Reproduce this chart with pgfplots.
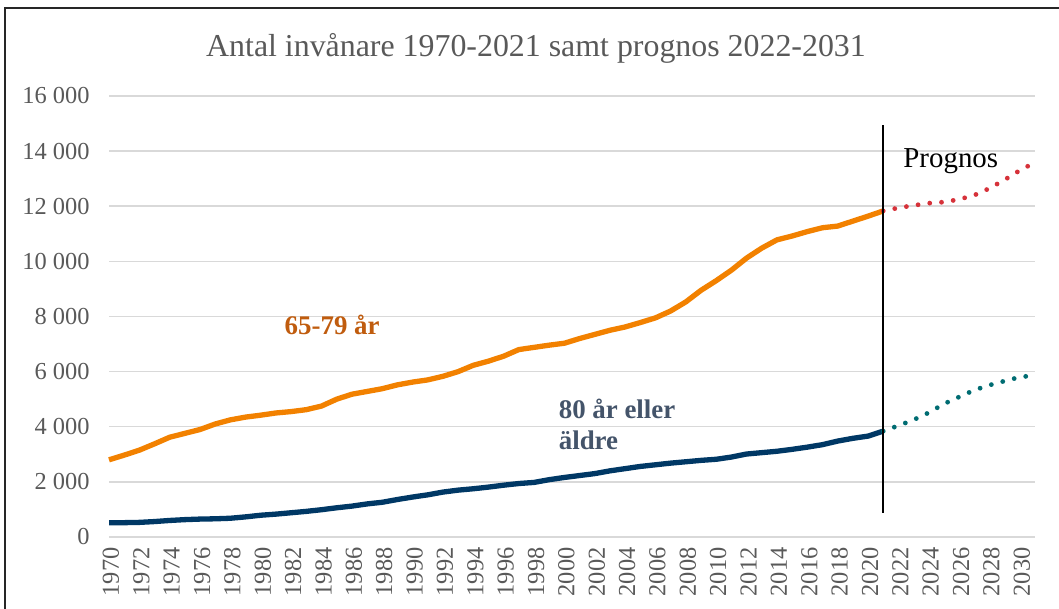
\documentclass[border=0pt]{standalone}
\usepackage{fontspec}
\setmainfont{Liberation Serif}
\usepackage{pgfplots}
\pgfplotsset{compat=1.18}
\definecolor{orangeL}{RGB}{242,129,0}
\definecolor{navyL}{RGB}{0,56,101}
\definecolor{redD}{RGB}{214,50,58}
\definecolor{tealD}{RGB}{0,108,114}
\definecolor{lblOr}{RGB}{192,92,14}
\definecolor{lblBl}{RGB}{68,84,106}
\definecolor{tickG}{RGB}{89,89,89}
\definecolor{gridG}{RGB}{217,217,217}
\begin{document}
\begin{tikzpicture}[x=1bp,y=1bp]
\useasboundingbox (0,0) rectangle (1059,609);
\draw[line width=2bp, black!85] (5,0) -- (5,601) -- (1059,601);
\node[anchor=base, text=tickG, font=\fontsize{32}{36}\selectfont] at (536,552) {Antal invånare 1970-2021 samt prognos 2022-2031};
\begin{axis}[
  at={(109bp,72bp)}, anchor=south west,
  width=926bp, height=441bp, scale only axis,
  xmin=1970, xmax=2031, ymin=0, ymax=16000,
  axis line style={draw=none},
  tick style={draw=none},
  ymajorgrids, grid style={gridG, line width=1.5bp},
  ytick={0,2000,...,16000},
  scaled y ticks=false,
  xtick={1970,1972,...,2030},
  xticklabel shift=7bp,
  /pgf/number format/assume math mode=true,
  yticklabel style={text=tickG, font=\fontsize{24.5}{27}\selectfont, xshift=-16bp, /pgf/number format/1000 sep={\ }},
  xticklabel style={text=tickG, font=\fontsize{24.5}{27}\selectfont, rotate=90, anchor=east, yshift=-2bp, /pgf/number format/1000 sep={}},
  clip=false,
]
\addplot[orangeL, line width=5.3bp, line join=round] coordinates {
(1970,2800)(1971,2970)(1972,3150)(1973,3380)(1974,3620)(1975,3760)(1976,3900)(1977,4100)(1978,4250)(1979,4350)
(1980,4420)(1981,4500)(1982,4550)(1983,4620)(1984,4750)(1985,5000)(1986,5180)(1987,5280)(1988,5380)(1989,5520)
(1990,5620)(1991,5700)(1992,5830)(1993,6000)(1994,6230)(1995,6380)(1996,6560)(1997,6800)(1998,6880)(1999,6960)
(2000,7030)(2001,7200)(2002,7350)(2003,7500)(2004,7620)(2005,7780)(2006,7950)(2007,8200)(2008,8530)(2009,8950)
(2010,9300)(2011,9680)(2012,10120)(2013,10480)(2014,10780)(2015,10920)(2016,11080)(2017,11220)(2018,11280)(2019,11460)
(2020,11640)(2021,11830)
};
\addplot[navyL, line width=5.3bp, line join=round] coordinates {
(1970,520)(1971,520)(1972,530)(1973,560)(1974,600)(1975,630)(1976,650)(1977,660)(1978,680)(1979,730)
(1980,790)(1981,830)(1982,880)(1983,930)(1984,990)(1985,1060)(1986,1120)(1987,1200)(1988,1260)(1989,1360)
(1990,1450)(1991,1530)(1992,1630)(1993,1700)(1994,1750)(1995,1810)(1996,1880)(1997,1940)(1998,1980)(1999,2080)
(2000,2160)(2001,2230)(2002,2300)(2003,2400)(2004,2480)(2005,2560)(2006,2620)(2007,2680)(2008,2730)(2009,2780)
(2010,2820)(2011,2900)(2012,3010)(2013,3060)(2014,3110)(2015,3180)(2016,3260)(2017,3350)(2018,3480)(2019,3580)
(2020,3660)(2021,3840)
};
\addplot[redD, line width=4.8bp, line cap=round, dash pattern=on 0bp off 11.8bp] coordinates {
(2021,11830)(2022,11940)(2023,12030)(2024,12110)(2025,12150)(2026,12250)(2027,12400)(2028,12650)(2029,12960)(2030,13300)(2031,13590)
};
\addplot[tealD, line width=4.8bp, line cap=round, dash pattern=on 0bp off 11.8bp] coordinates {
(2021,3840)(2022,4040)(2023,4250)(2024,4510)(2025,4830)(2026,5080)(2027,5330)(2028,5510)(2029,5660)(2030,5800)(2031,5870)
};
\addplot[black, line width=2.5bp] coordinates {(2021,880)(2021,14960)};
\node[text=lblOr, font=\bfseries\fontsize{27}{32}\selectfont] at (axis cs:1984.7,7690) {65-79 år};
\node[text=lblBl, font=\bfseries\fontsize{27}{31}\selectfont, align=left, anchor=west] at (axis cs:1999.4,4100) {80 år eller\\äldre};
\node[anchor=base west, font=\fontsize{29}{33}\selectfont] at (axis cs:2022.1,13390) {Prognos};
\end{axis}
\end{tikzpicture}
\end{document}
